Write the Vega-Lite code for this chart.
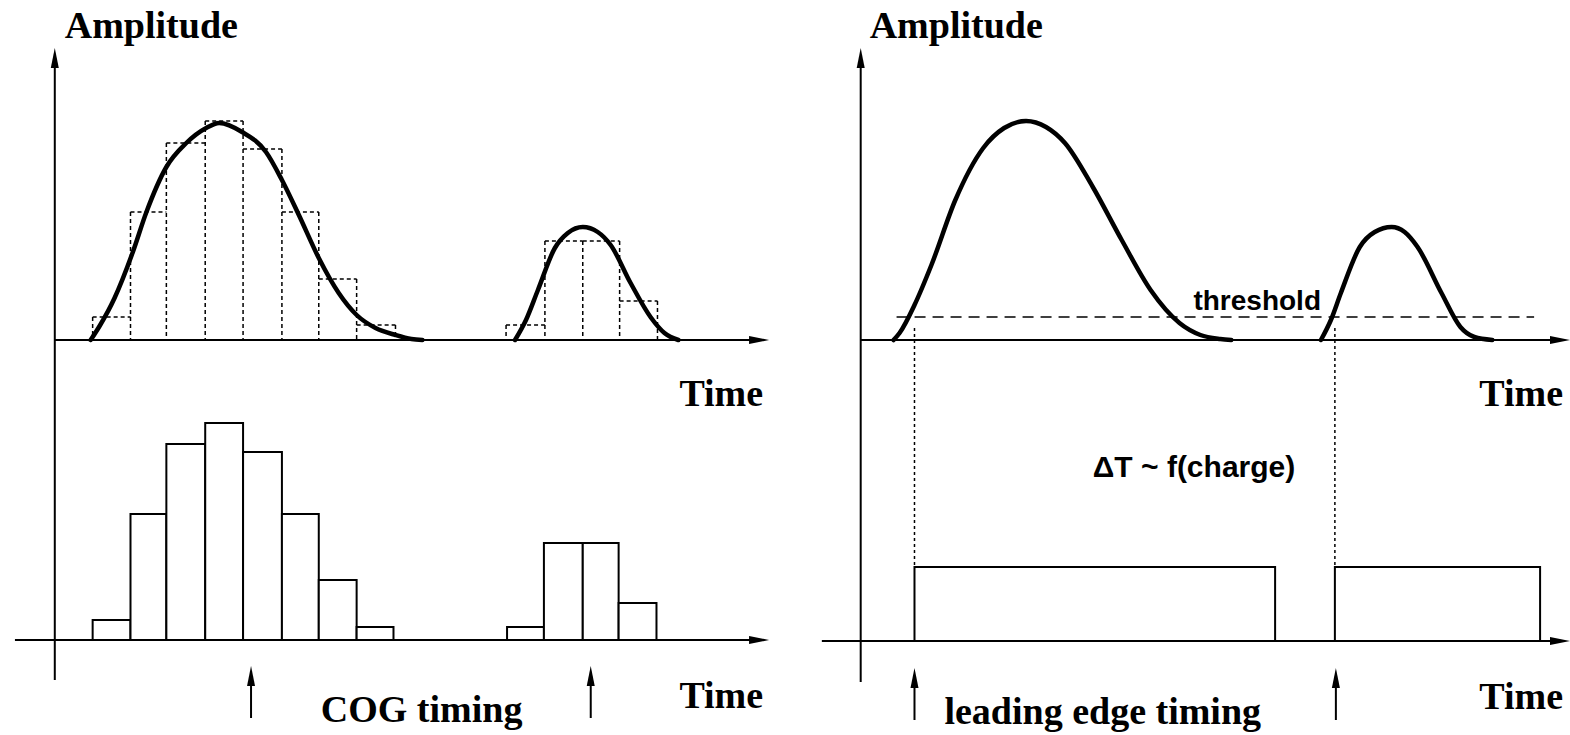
{
  "$schema": "https://vega.github.io/schema/vega-lite/v6.json",
  "width": 1570,
  "height": 735,
  "padding": 0,
  "autosize": {"type": "fit", "contains": "padding"},
  "background": "white",
  "config": {"view": {"stroke": null}},
  "datasets": {
    "axes": [
      {"x": 55, "y": 62, "x2": 55, "y2": 680},
      {"x": 55, "y": 340, "x2": 756, "y2": 340},
      {"x": 15, "y": 640, "x2": 756, "y2": 640},
      {"x": 864, "y": 62, "x2": 864, "y2": 682},
      {"x": 864, "y": 340, "x2": 1560, "y2": 340},
      {"x": 825, "y": 641, "x2": 1560, "y2": 641},
      {"x": 252, "y": 680, "x2": 252, "y2": 718},
      {"x": 593, "y": 680, "x2": 593, "y2": 718},
      {"x": 918, "y": 682, "x2": 918, "y2": 720},
      {"x": 1341, "y": 682, "x2": 1341, "y2": 720}
    ],
    "headsUp": [
      {"x": 55, "y": 58},
      {"x": 864, "y": 58},
      {"x": 252, "y": 676},
      {"x": 593, "y": 676},
      {"x": 918, "y": 678},
      {"x": 1341, "y": 678}
    ],
    "headsRight": [
      {"x": 762, "y": 340},
      {"x": 762, "y": 640},
      {"x": 1566, "y": 340},
      {"x": 1566, "y": 641}
    ],
    "dashedEdges": [
      {"x": 93, "y": 317, "x2": 131, "y2": 317},
      {"x": 131, "y": 212, "x2": 167, "y2": 212},
      {"x": 167, "y": 143, "x2": 206, "y2": 143},
      {"x": 206, "y": 121, "x2": 244, "y2": 121},
      {"x": 244, "y": 149, "x2": 283, "y2": 149},
      {"x": 283, "y": 212, "x2": 320, "y2": 212},
      {"x": 320, "y": 279, "x2": 358, "y2": 279},
      {"x": 358, "y": 325, "x2": 397, "y2": 325},
      {"x": 508, "y": 325, "x2": 547, "y2": 325},
      {"x": 547, "y": 241, "x2": 585, "y2": 241},
      {"x": 585, "y": 241, "x2": 622, "y2": 241},
      {"x": 622, "y": 301, "x2": 660, "y2": 301},
      {"x": 93, "y": 317, "x2": 93, "y2": 340},
      {"x": 131, "y": 212, "x2": 131, "y2": 340},
      {"x": 167, "y": 143, "x2": 167, "y2": 340},
      {"x": 206, "y": 121, "x2": 206, "y2": 340},
      {"x": 244, "y": 121, "x2": 244, "y2": 340},
      {"x": 283, "y": 149, "x2": 283, "y2": 340},
      {"x": 320, "y": 212, "x2": 320, "y2": 340},
      {"x": 358, "y": 279, "x2": 358, "y2": 340},
      {"x": 397, "y": 325, "x2": 397, "y2": 340},
      {"x": 508, "y": 325, "x2": 508, "y2": 340},
      {"x": 547, "y": 241, "x2": 547, "y2": 340},
      {"x": 585, "y": 241, "x2": 585, "y2": 340},
      {"x": 622, "y": 241, "x2": 622, "y2": 340},
      {"x": 660, "y": 301, "x2": 660, "y2": 340}
    ],
    "bars": [
      {"x": 93, "x2": 131, "y": 620, "y2": 640},
      {"x": 131, "x2": 167, "y": 514, "y2": 640},
      {"x": 167, "x2": 206, "y": 444, "y2": 640},
      {"x": 206, "x2": 244, "y": 423, "y2": 640},
      {"x": 244, "x2": 283, "y": 452, "y2": 640},
      {"x": 283, "x2": 320, "y": 514, "y2": 640},
      {"x": 320, "x2": 358, "y": 580, "y2": 640},
      {"x": 358, "x2": 395, "y": 627, "y2": 640},
      {"x": 509, "x2": 546, "y": 627, "y2": 640},
      {"x": 546, "x2": 585, "y": 543, "y2": 640},
      {"x": 585, "x2": 621, "y": 543, "y2": 640},
      {"x": 621, "x2": 659, "y": 603, "y2": 640},
      {"x": 918, "x2": 1280, "y": 567, "y2": 641},
      {"x": 1340, "x2": 1546, "y": 567, "y2": 641}
    ],
    "threshold": [
      {"x": 900, "y": 317, "x2": 1540, "y2": 317}
    ],
    "dotted": [
      {"x": 918, "y": 328, "x2": 918, "y2": 567},
      {"x": 1340, "y": 328, "x2": 1340, "y2": 567}
    ],
    "curves": [
      {"c": "a", "i": 0, "x": 91, "y": 340},
      {"c": "a", "i": 1, "x": 100, "y": 326},
      {"c": "a", "i": 2, "x": 115, "y": 298},
      {"c": "a", "i": 3, "x": 133, "y": 253},
      {"c": "a", "i": 4, "x": 147, "y": 212},
      {"c": "a", "i": 5, "x": 167, "y": 167},
      {"c": "a", "i": 6, "x": 187, "y": 143},
      {"c": "a", "i": 7, "x": 207, "y": 128},
      {"c": "a", "i": 8, "x": 220, "y": 123},
      {"c": "a", "i": 9, "x": 243, "y": 132},
      {"c": "a", "i": 10, "x": 267, "y": 152},
      {"c": "a", "i": 11, "x": 283, "y": 180},
      {"c": "a", "i": 12, "x": 300, "y": 215},
      {"c": "a", "i": 13, "x": 320, "y": 258},
      {"c": "a", "i": 14, "x": 340, "y": 293},
      {"c": "a", "i": 15, "x": 358, "y": 315},
      {"c": "a", "i": 16, "x": 377, "y": 328},
      {"c": "a", "i": 17, "x": 397, "y": 335},
      {"c": "a", "i": 18, "x": 413, "y": 339},
      {"c": "a", "i": 19, "x": 424, "y": 340},
      {"c": "b", "i": 0, "x": 517, "y": 340},
      {"c": "b", "i": 1, "x": 528, "y": 320},
      {"c": "b", "i": 2, "x": 540, "y": 290},
      {"c": "b", "i": 3, "x": 557, "y": 248},
      {"c": "b", "i": 4, "x": 570, "y": 233},
      {"c": "b", "i": 5, "x": 585, "y": 227},
      {"c": "b", "i": 6, "x": 600, "y": 232},
      {"c": "b", "i": 7, "x": 613, "y": 245},
      {"c": "b", "i": 8, "x": 633, "y": 283},
      {"c": "b", "i": 9, "x": 653, "y": 317},
      {"c": "b", "i": 10, "x": 667, "y": 333},
      {"c": "b", "i": 11, "x": 681, "y": 340},
      {"c": "c", "i": 0, "x": 897, "y": 340},
      {"c": "c", "i": 1, "x": 903, "y": 333},
      {"c": "c", "i": 2, "x": 918, "y": 305},
      {"c": "c", "i": 3, "x": 935, "y": 265},
      {"c": "c", "i": 4, "x": 959, "y": 200},
      {"c": "c", "i": 5, "x": 987, "y": 148},
      {"c": "c", "i": 6, "x": 1008, "y": 128},
      {"c": "c", "i": 7, "x": 1030, "y": 121},
      {"c": "c", "i": 8, "x": 1050, "y": 127},
      {"c": "c", "i": 9, "x": 1069, "y": 143},
      {"c": "c", "i": 10, "x": 1097, "y": 187},
      {"c": "c", "i": 11, "x": 1126, "y": 240},
      {"c": "c", "i": 12, "x": 1155, "y": 290},
      {"c": "c", "i": 13, "x": 1184, "y": 323},
      {"c": "c", "i": 14, "x": 1205, "y": 335},
      {"c": "c", "i": 15, "x": 1225, "y": 339},
      {"c": "c", "i": 16, "x": 1236, "y": 340},
      {"c": "d", "i": 0, "x": 1326, "y": 340},
      {"c": "d", "i": 1, "x": 1336, "y": 320},
      {"c": "d", "i": 2, "x": 1346, "y": 293},
      {"c": "d", "i": 3, "x": 1365, "y": 247},
      {"c": "d", "i": 4, "x": 1380, "y": 232},
      {"c": "d", "i": 5, "x": 1397, "y": 227},
      {"c": "d", "i": 6, "x": 1410, "y": 232},
      {"c": "d", "i": 7, "x": 1423, "y": 247},
      {"c": "d", "i": 8, "x": 1447, "y": 293},
      {"c": "d", "i": 9, "x": 1466, "y": 327},
      {"c": "d", "i": 10, "x": 1480, "y": 337},
      {"c": "d", "i": 11, "x": 1498, "y": 340}
    ],
    "serifText": [
      {"x": 65, "y": 38, "label": "Amplitude"},
      {"x": 873, "y": 38, "label": "Amplitude"},
      {"x": 682, "y": 406, "label": "Time"},
      {"x": 682, "y": 708, "label": "Time"},
      {"x": 1485, "y": 406, "label": "Time"},
      {"x": 1485, "y": 709, "label": "Time"},
      {"x": 322, "y": 722, "label": "COG timing"},
      {"x": 948, "y": 724, "label": "leading edge timing"}
    ],
    "thresholdText": [
      {"x": 1198, "y": 310, "label": "threshold"}
    ],
    "deltaText": [
      {"x": 1097, "y": 477, "label": "ΔT ~ f(charge)"}
    ]
  },
  "encoding": {
    "x": {"field": "x", "type": "quantitative", "axis": null, "scale": {"domain": [0, 1570], "nice": false, "zero": false}},
    "y": {"field": "y", "type": "quantitative", "axis": null, "scale": {"domain": [0, 735], "nice": false, "zero": false, "reverse": true}}
  },
  "layer": [
    {
      "data": {"name": "dashedEdges"},
      "mark": {"type": "rule", "color": "black", "strokeWidth": 1.5, "strokeDash": [4, 3]},
      "encoding": {"x2": {"field": "x2"}, "y2": {"field": "y2"}}
    },
    {
      "data": {"name": "bars"},
      "mark": {"type": "rect", "fill": "white", "stroke": "black", "strokeWidth": 2},
      "encoding": {"x2": {"field": "x2"}, "y2": {"field": "y2"}}
    },
    {
      "data": {"name": "axes"},
      "mark": {"type": "rule", "color": "black", "strokeWidth": 2},
      "encoding": {"x2": {"field": "x2"}, "y2": {"field": "y2"}}
    },
    {
      "data": {"name": "threshold"},
      "mark": {"type": "rule", "color": "black", "strokeWidth": 1.6, "strokeDash": [11, 7]},
      "encoding": {"x2": {"field": "x2"}, "y2": {"field": "y2"}}
    },
    {
      "data": {"name": "dotted"},
      "mark": {"type": "rule", "color": "black", "strokeWidth": 1.5, "strokeDash": [3, 3]},
      "encoding": {"x2": {"field": "x2"}, "y2": {"field": "y2"}}
    },
    {
      "data": {"name": "curves"},
      "mark": {"type": "line", "color": "black", "strokeWidth": 4.5, "interpolate": "monotone", "strokeCap": "round", "strokeJoin": "round"},
      "encoding": {"detail": {"field": "c"}, "order": {"field": "i", "type": "quantitative"}}
    },
    {
      "data": {"name": "headsUp"},
      "mark": {"type": "point", "shape": "M0,-1L0.4,1L-0.4,1Z", "filled": true, "color": "black", "opacity": 1, "size": 400, "strokeWidth": 0},
      "encoding": {}
    },
    {
      "data": {"name": "headsRight"},
      "mark": {"type": "point", "shape": "M1,0L-1,-0.4L-1,0.4Z", "filled": true, "color": "black", "opacity": 1, "size": 400, "strokeWidth": 0},
      "encoding": {}
    },
    {
      "data": {"name": "serifText"},
      "mark": {"type": "text", "font": "Liberation Serif", "fontWeight": "bold", "fontSize": 38, "align": "left", "baseline": "alphabetic", "color": "black"},
      "encoding": {"text": {"field": "label"}}
    },
    {
      "data": {"name": "thresholdText"},
      "mark": {"type": "text", "font": "Liberation Sans Narrow, Liberation Sans", "fontWeight": "bold", "fontSize": 28, "align": "left", "baseline": "alphabetic", "color": "black"},
      "encoding": {"text": {"field": "label"}}
    },
    {
      "data": {"name": "deltaText"},
      "mark": {"type": "text", "font": "Liberation Sans", "fontWeight": "bold", "fontSize": 30, "align": "left", "baseline": "alphabetic", "color": "black"},
      "encoding": {"text": {"field": "label"}}
    }
  ]
}
